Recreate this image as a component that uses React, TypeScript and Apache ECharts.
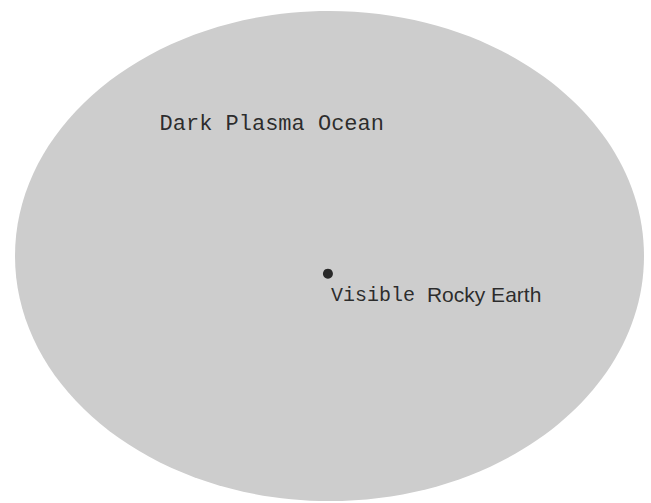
import React, { useEffect, useRef } from "react";
import * as echarts from "echarts";

// Data (in the chart's own units: the ocean is a unit ellipse centred at the origin)
const oceanName = "Dark Plasma Ocean";
const oceanCenter = [0, 0];
const oceanRadii = [1, 1];
const oceanLabelAnchor = [-0.542, 0.535];
const earthName = "Visible Rocky Earth";
const earthPosition = [-0.005, -0.072];
const axisRange = [-1, 1];

export default function App() {
  const ref = useRef<HTMLDivElement>(null);
  useEffect(() => {
    document.body.style.margin = "0";
    const chart = echarts.init(ref.current!, undefined, { renderer: "svg" });
    chart.setOption({
      animation: false,
      backgroundColor: "#ffffff",
      grid: { left: 15, top: 11, width: 629, height: 490 },
      xAxis: { type: "value", min: axisRange[0], max: axisRange[1], show: false },
      yAxis: { type: "value", min: axisRange[0], max: axisRange[1], show: false },
      series: [
        {
          type: "custom",
          name: oceanName,
          data: [[oceanCenter[0], oceanCenter[1], oceanRadii[0], oceanRadii[1]]],
          renderItem: (params: any, api: any) => {
            const c = api.coord([api.value(0), api.value(1)]);
            const s = api.size([api.value(2), api.value(3)]);
            return {
              type: "ellipse",
              shape: { cx: c[0], cy: c[1], rx: s[0], ry: s[1] },
              style: { fill: "#cdcdcd" },
            };
          },
          silent: true,
          z: 1,
        },
        {
          type: "scatter",
          name: "oceanLabel",
          data: [{ value: oceanLabelAnchor, name: oceanName }],
          symbolSize: 1,
          itemStyle: { color: "rgba(0,0,0,0)" },
          label: {
            show: true,
            position: "right",
            distance: 0,
            formatter: "{b}",
            fontFamily: "'Liberation Mono', 'Courier New', monospace",
            fontSize: 22,
            color: "#000000",
          },
          z: 3,
        },
        {
          type: "scatter",
          name: "earth",
          data: [{ value: earthPosition, name: earthName }],
          symbol: "circle",
          symbolSize: 10,
          itemStyle: { color: "#000000" },
          label: {
            show: true,
            position: [8, 26],
            align: "left",
            verticalAlign: "middle",
            formatter: "{m|Visible }{s|Rocky Earth}",
            rich: {
              m: {
                fontFamily: "'Liberation Mono', 'Courier New', monospace",
                fontSize: 20,
                color: "#000000",
                verticalAlign: "bottom",
              },
              s: {
                fontFamily: "'Liberation Sans', Arial, sans-serif",
                fontSize: 21,
                color: "#000000",
                verticalAlign: "bottom",
              },
            },
          },
          z: 3,
        },
      ],
    });
    return () => chart.dispose();
  }, []);
  return <div ref={ref} style={{ width: 651, height: 503 }} />;
}
